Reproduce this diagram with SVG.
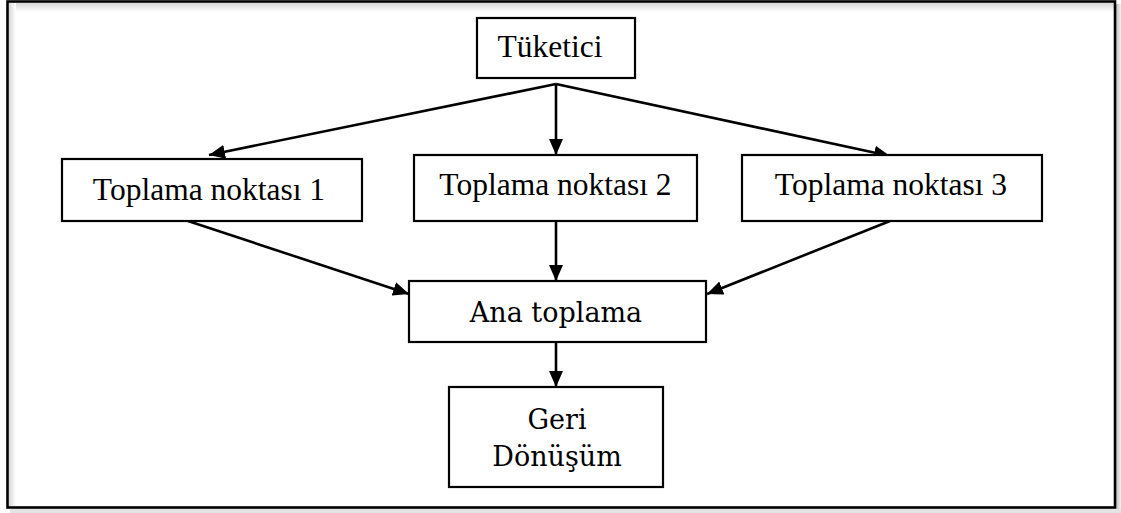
<svg xmlns="http://www.w3.org/2000/svg" width="1121" height="513" viewBox="0 0 1121 513">
  <style>
    .box { fill: #ffffff; stroke: #000000; stroke-width: 2.2; }
    .times { font-family: "Liberation Serif", "Times New Roman", serif; font-size: 31.5px; fill: #000000; }
    .serif2 { font-family: "DejaVu Serif", "Liberation Serif", serif; font-size: 27px; fill: #000000; }
    .link { stroke: #000000; stroke-width: 2.6; fill: none; marker-end: url(#arrow); }
  </style>
  <defs>
    <marker id="arrow" viewBox="0 0 16 14" refX="16" refY="7" markerWidth="16" markerHeight="14" markerUnits="userSpaceOnUse" orient="auto">
      <path d="M0,0 L16,7 L0,14 Z" fill="#000000"/>
    </marker>
    <linearGradient id="shadeTop" x1="0" y1="0" x2="0" y2="1">
      <stop offset="0" stop-color="#d8d8d8"/>
      <stop offset="1" stop-color="#ffffff"/>
    </linearGradient>
    <linearGradient id="shadeLeft" x1="0" y1="0" x2="1" y2="0">
      <stop offset="0" stop-color="#d8d8d8"/>
      <stop offset="1" stop-color="#ffffff"/>
    </linearGradient>
    <linearGradient id="shadeRight" x1="0" y1="0" x2="1" y2="0">
      <stop offset="0" stop-color="#bdbdbd"/>
      <stop offset="1" stop-color="#f2f2f2"/>
    </linearGradient>
  </defs>

  <!-- page background and framed panel -->
  <rect x="0" y="0" width="1121" height="513" fill="#ffffff"/>
  <rect x="1116" y="4" width="5" height="509" fill="url(#shadeRight)"/>
  <rect x="10" y="509" width="1111" height="4" fill="#e4e4e4"/>
  <rect x="9" y="3" width="1105" height="9" fill="url(#shadeTop)"/>
  <rect x="9" y="3" width="7" height="503" fill="url(#shadeLeft)"/>
  <rect x="7.5" y="1.5" width="1107.5" height="506" fill="none" stroke="#000000" stroke-width="2.6"/>

  <!-- connectors -->
  <g id="connectors">
    <line class="link" x1="556" y1="84" x2="209" y2="155"/>
    <line class="link" x1="556" y1="84" x2="556" y2="155"/>
    <line class="link" x1="556" y1="84" x2="890" y2="156"/>
    <line class="link" x1="188" y1="221" x2="409" y2="294"/>
    <line class="link" x1="556" y1="221" x2="556" y2="281"/>
    <line class="link" x1="890" y1="221" x2="707" y2="294"/>
    <line class="link" x1="556" y1="342" x2="556" y2="387"/>
  </g>

  <g id="tuketici">
    <rect class="box" x="477" y="18" width="158" height="60"/>
    <text class="times" x="550" y="57" text-anchor="middle">Tüketici</text>
  </g>

  <g id="toplama1">
    <rect class="box" x="62" y="159" width="300" height="62"/>
    <text class="times" x="209" y="200" text-anchor="middle">Toplama noktası 1</text>
  </g>

  <g id="toplama2">
    <rect class="box" x="414" y="155" width="283" height="66"/>
    <text class="times" x="555.5" y="195" text-anchor="middle">Toplama noktası 2</text>
  </g>

  <g id="toplama3">
    <rect class="box" x="742" y="155" width="300" height="66"/>
    <text class="times" x="891" y="195" text-anchor="middle">Toplama noktası 3</text>
  </g>

  <g id="ana-toplama">
    <rect class="box" x="409" y="281" width="297" height="61"/>
    <text class="serif2" x="556" y="321.5" text-anchor="middle">Ana toplama</text>
  </g>

  <g id="geri-donusum">
    <rect class="box" x="449" y="387" width="214" height="100"/>
    <text class="serif2" x="557" y="429" text-anchor="middle">Geri</text>
    <text class="serif2" x="557" y="466" text-anchor="middle">Dönüşüm</text>
  </g>
</svg>
